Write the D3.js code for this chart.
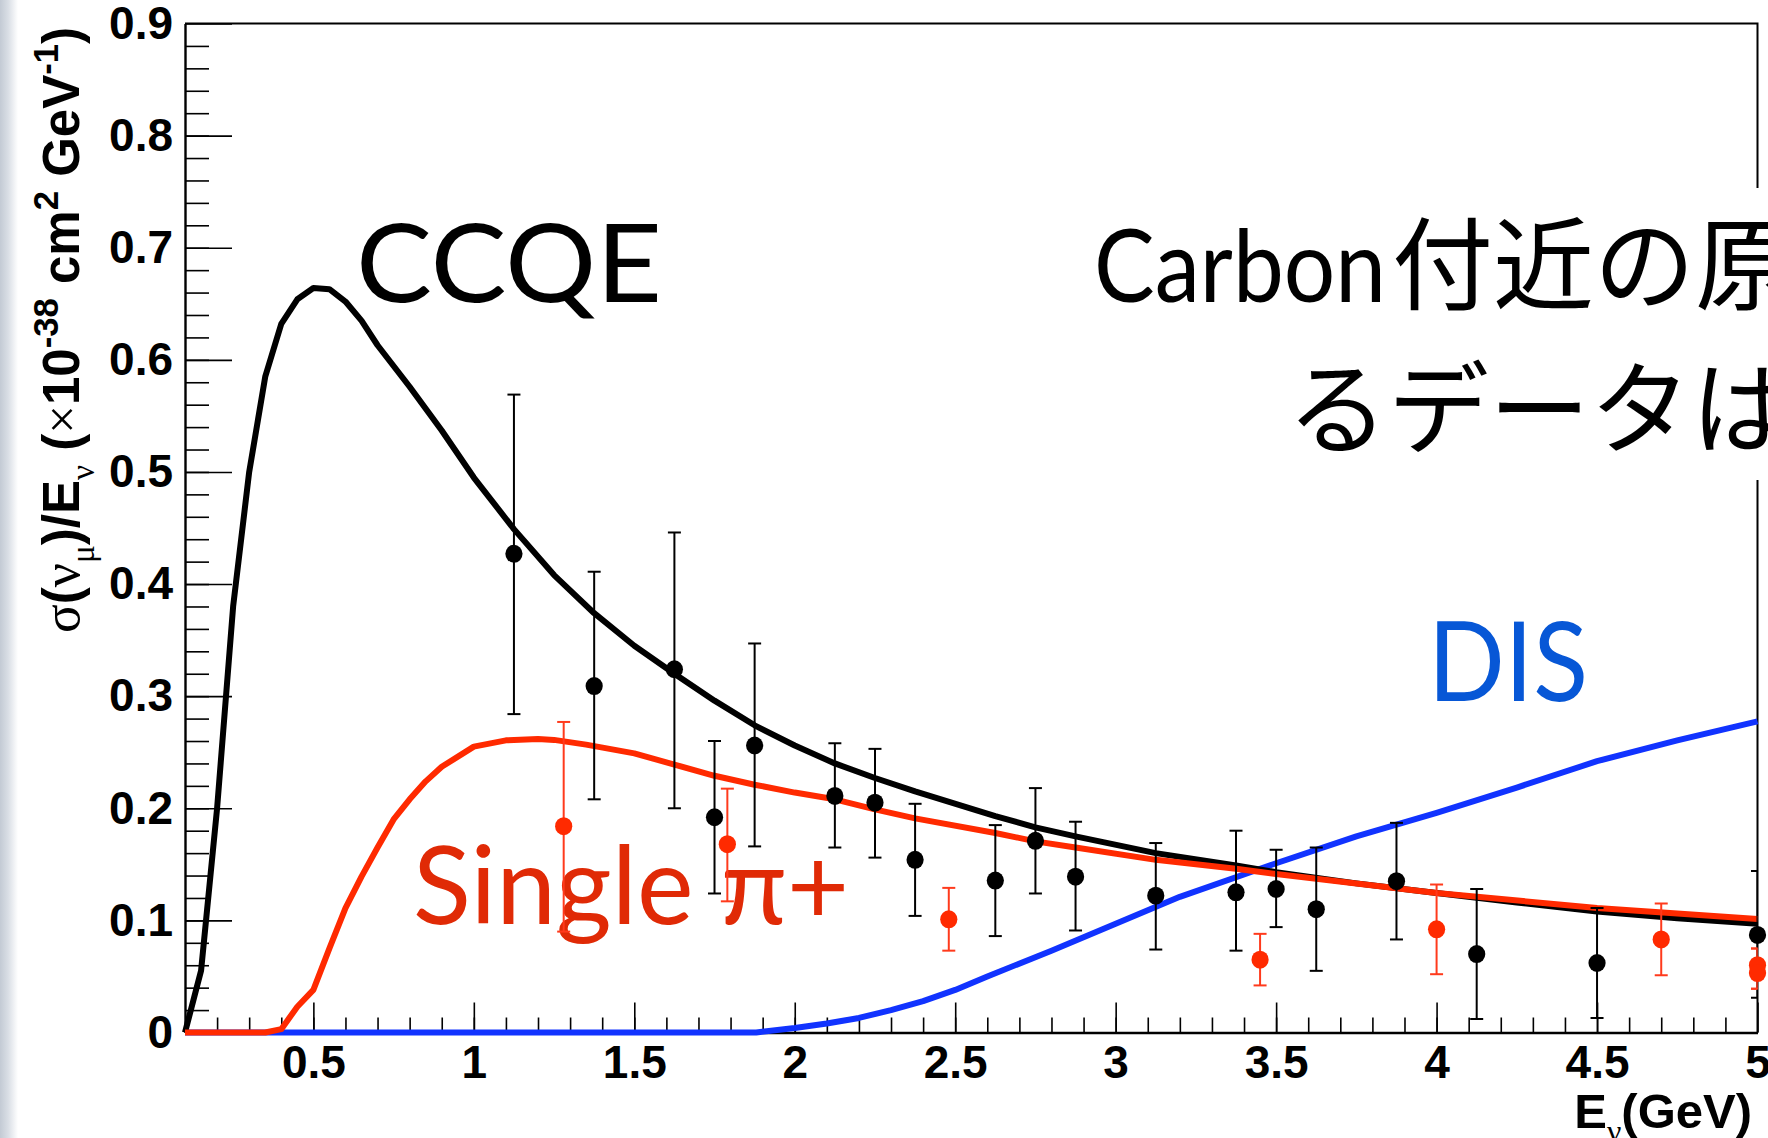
<!DOCTYPE html>
<html>
<head>
<meta charset="utf-8">
<script src="https://cdn.jsdelivr.net/npm/d3@7"></script>
<style>
  body { margin: 0; background: #fff; }
  svg { display: block; }
  .tick text { font-family: "Liberation Sans", Arial, sans-serif; font-weight: bold; font-size: 46px; fill: #000; }
  .label { font-family: Lato, "Noto Sans", sans-serif; }
</style>
</head>
<body>
<div id="plot1"></div>
<script>

// model curves (energy in GeV, sigma/E in 1e-38 cm2/GeV)
var ccqeE    = [0.1,0.15,0.2,0.25,0.3,0.35,0.4,0.45,0.5,0.55,0.6,0.65,0.7,0.8,0.9,1.0,1.125,1.25,1.375,1.5,1.625,1.75,1.875,2.0,2.125,2.25,2.375,2.625,2.75,2.875,3.125,3.375,3.5,3.75,4.0,4.25,4.5,4.75,5.0];
var ccqeXsec = [0,0.055,0.2,0.38,0.5,0.585,0.632,0.654,0.664,0.663,0.652,0.635,0.613,0.576,0.537,0.495,0.449,0.408,0.374,0.345,0.32,0.296,0.274,0.256,0.240,0.227,0.215,0.193,0.183,0.175,0.160,0.149,0.143,0.133,0.1245,0.116,0.108,0.102,0.097];

var pionE    = [0.1,0.35,0.4,0.45,0.5,0.55,0.6,0.65,0.7,0.75,0.8,0.85,0.9,1.0,1.1,1.2,1.25,1.35,1.5,1.625,1.75,1.875,2.0,2.125,2.25,2.375,2.625,2.75,2.875,3.125,3.375,3.5,4.0,4.5,5.0];
var pionXsec = [0,0,0.003,0.023,0.038,0.075,0.111,0.139,0.165,0.19,0.208,0.224,0.237,0.255,0.2606,0.2618,0.261,0.2568,0.249,0.239,0.229,0.221,0.214,0.208,0.199,0.191,0.178,0.1705,0.165,0.154,0.146,0.1414,0.1245,0.111,0.1013];

var disE    = [0.1,1.88,2.0,2.1,2.2,2.3,2.4,2.5,2.6,2.8,3.0,3.2,3.5,3.75,4.0,4.25,4.5,4.75,5.0];
var disXsec = [0,0,0.004,0.008,0.013,0.02,0.028,0.038,0.05,0.073,0.097,0.121,0.151,0.175,0.196,0.2185,0.242,0.2605,0.2775];

// measured points, CCQE (black)
var dataE    = [1.125,1.375,1.625,1.75,1.875,2.125,2.25,2.375,2.625,2.75,2.875,3.125,3.375,3.5,3.625,3.875,4.125,4.5,5.0];
var dataXsec = [0.427,0.309,0.324,0.192,0.256,0.211,0.205,0.154,0.1355,0.171,0.139,0.122,0.125,0.128,0.110,0.135,0.070,0.062,0.087];
var dataHi   = [0.569,0.411,0.446,0.260,0.347,0.258,0.253,0.204,0.185,0.218,0.188,0.169,0.180,0.163,0.165,0.187,0.128,0.111,0.144];
var dataLo   = [0.284,0.208,0.200,0.124,0.166,0.165,0.156,0.104,0.086,0.124,0.091,0.074,0.073,0.094,0.055,0.083,0.012,0.013,0.031];

// measured points, single pion (red)
var pionDataE    = [1.28,1.79,2.48,3.45,4.0,4.7,5.0,5.0];
var pionDataXsec = [0.184,0.168,0.101,0.065,0.092,0.083,0.060,0.053];
var pionDataHi   = [0.277,0.2175,0.129,0.088,0.132,0.115,0.075,0.075];
var pionDataLo   = [0.090,0.117,0.073,0.042,0.052,0.051,0.039,0.039];

// axis ticks
var xTicks = [0.5,1,1.5,2,2.5,3,3.5,4,4.5,5];
var xTickLabels = ["0.5","1","1.5","2","2.5","3","3.5","4","4.5","5"];
var yTicks = [0,0.1,0.2,0.3,0.4,0.5,0.6,0.7,0.8,0.9];
var yTickLabels = ["0","0.1","0.2","0.3","0.4","0.5","0.6","0.7","0.8","0.9"];

var W = 1768, H = 1138;
var frame = {left: 185, right: 1757.5, top: 23.5, bottom: 1032.5};

var svg = d3.select("#plot1")
  .append("svg")
    .attr("width", W)
    .attr("height", H);

////////////////////////////////////////////////////////////
// background: slide edge shading on the left
////////////////////////////////////////////////////////////
var defs = svg.append("defs");
var grad = defs.append("linearGradient").attr("id", "edge").attr("x1", 0).attr("x2", 1);
grad.append("stop").attr("offset", 0).attr("stop-color", "#c3cad4");
grad.append("stop").attr("offset", 0.45).attr("stop-color", "#d9dee5");
grad.append("stop").attr("offset", 1).attr("stop-color", "#ffffff");
svg.append("rect").attr("x", 0).attr("y", 0).attr("width", 18).attr("height", H).attr("fill", "url(#edge)");

defs.append("clipPath").attr("id", "plotclip")
  .append("rect")
    .attr("x", frame.left).attr("y", frame.top)
    .attr("width", frame.right - frame.left).attr("height", frame.bottom - frame.top);

////////////////////////////////////////////////////////////
// scales + axes
////////////////////////////////////////////////////////////
var xscale = d3.scaleLinear().domain([0.1, 5]).range([frame.left, frame.right]);
var yscale = d3.scaleLinear().domain([0, 0.9]).range([frame.bottom, frame.top]);

// minor ticks first
var xMinor = d3.range(2, 50).map(function(i) { return i / 10; });
var yMinor = d3.range(1, 45).map(function(i) { return i / 50; });

svg.append("g")
  .attr("transform", "translate(0," + frame.bottom + ")")
  .call(d3.axisBottom(xscale).tickValues(xMinor).tickSize(-15).tickSizeOuter(0).tickFormat(""))
  .call(function(g) { g.select(".domain").remove(); })
  .selectAll("line").attr("stroke-width", 1.6);

svg.append("g")
  .attr("transform", "translate(" + frame.left + ",0)")
  .call(d3.axisLeft(yscale).tickValues(yMinor).tickSize(-24).tickSizeOuter(0).tickFormat(""))
  .call(function(g) { g.select(".domain").remove(); })
  .selectAll("line").attr("stroke-width", 1.6);

var xAxis = d3.axisBottom(xscale)
  .tickValues(xTicks)
  .tickSize(-30)
  .tickSizeOuter(0)
  .tickPadding(13)
  .tickFormat(function(d, i) { return xTickLabels[i]; });

svg.append("g")
  .attr("class", "myXaxis")
  .attr("transform", "translate(0," + frame.bottom + ")")
  .call(xAxis)
  .call(function(g) { g.select(".domain").attr("stroke-width", 2.4); })
  .selectAll("line").attr("stroke-width", 1.6);

var yAxis = d3.axisLeft(yscale)
  .tickValues(yTicks)
  .tickSize(-47)
  .tickSizeOuter(0)
  .tickPadding(12)
  .tickFormat(function(d, i) { return yTickLabels[i]; });

svg.append("g")
  .attr("class", "myYaxis")
  .attr("transform", "translate(" + frame.left + ",0)")
  .call(yAxis)
  .call(function(g) { g.select(".domain").attr("stroke-width", 2.4); })
  .selectAll("line").attr("stroke-width", 1.6);

// top + right edges of the frame
svg.append("path")
  .attr("d", "M" + frame.left + "," + frame.top + "H" + frame.right + "V" + frame.bottom)
  .attr("fill", "none")
  .attr("stroke", "#000")
  .attr("stroke-width", 2);

////////////////////////////////////////////////////////////
// axis titles (ROOT style, greek in symbol-like serif)
////////////////////////////////////////////////////////////
function richText(sel, parts, size) {
  var shift = 0;
  parts.forEach(function(p) {
    var s = p.s || 0;   // baseline shift in em of main size, + is down
    sel.append("tspan")
      .attr("dy", ((s - shift) * size) + "px")
      .attr("font-size", (p.k || 1) * size + "px")
      .attr("font-family", p.g ? "'Liberation Serif', 'DejaVu Serif', serif" : "'Liberation Sans', Arial, sans-serif")
      .attr("font-weight", p.g ? "normal" : "bold")
      .text(p.t);
    shift = s;
  });
}

var yTitle = svg.append("text")
  .attr("transform", "translate(79,330) rotate(-90)")
  .attr("text-anchor", "middle");
richText(yTitle, [
  {t: "\u03c3", g: true, k: 1.05},
  {t: "("},
  {t: "\u03bd", g: true, k: 1.05},
  {t: "\u03bc", g: true, k: 0.65, s: 0.3},
  {t: ")/E"},
  {t: "\u03bd", g: true, k: 0.65, s: 0.3},
  {t: " ("},
  {t: "\u00d7", g: true},
  {t: "10"},
  {t: "-38", k: 0.68, s: -0.42},
  {t: " cm"},
  {t: "2", k: 0.68, s: -0.42},
  {t: " GeV"},
  {t: "-1", k: 0.68, s: -0.42},
  {t: ")"}
], 51);

var xTitle = svg.append("text")
  .attr("x", 1752)
  .attr("y", 1128)
  .attr("text-anchor", "end");
richText(xTitle, [
  {t: "E"},
  {t: "\u03bd", g: true, k: 0.65, s: 0.28},
  {t: "(GeV)"}
], 49);

////////////////////////////////////////////////////////////
// process labels
////////////////////////////////////////////////////////////
svg.append("text").attr("class", "label")
  .attr("x", 356).attr("y", 302)
  .attr("font-size", 108).attr("fill", "#000")
  .attr("textLength", 306).attr("lengthAdjust", "spacingAndGlyphs")
  .text("CCQE");

svg.append("text").attr("class", "label")
  .attr("x", 413).attr("y", 924)
  .attr("font-size", 108).attr("fill", "#e02a06")
  .attr("textLength", 436).attr("lengthAdjust", "spacingAndGlyphs")
  .text("Single \u03c0+");

svg.append("text").attr("class", "label")
  .attr("x", 1428).attr("y", 701)
  .attr("font-size", 110).attr("fill", "#0757d6")
  .attr("textLength", 160).attr("lengthAdjust", "spacingAndGlyphs")
  .text("DIS");

////////////////////////////////////////////////////////////
// curves
////////////////////////////////////////////////////////////
var valueline = d3.line()
  .x(function(d) { return xscale(d[0]); })
  .y(function(d) { return yscale(d[1]); });

var curves = [
  {e: disE,  v: disXsec,  color: "#1133ff"},
  {e: ccqeE, v: ccqeXsec, color: "#000000"},
  {e: pionE, v: pionXsec, color: "#ff2a00"}
];

svg.append("g")
  .attr("fill", "none")
  .attr("stroke-width", 6)
  .attr("stroke-linejoin", "round")
  .selectAll("path")
  .data(curves)
  .join("path")
    .attr("stroke", function(c) { return c.color; })
    .attr("d", function(c) { return valueline(d3.zip(c.e, c.v)); });

////////////////////////////////////////////////////////////
// data points with error bars
////////////////////////////////////////////////////////////
function drawPoints(E, V, Hi, Lo, color, barColor) {
  var pts = E.map(function(e, i) { return {e: e, v: V[i], hi: Hi[i], lo: Lo[i]}; });
  var g = svg.append("g");
  var bars = g.append("g").attr("clip-path", "url(#plotclip)")
    .attr("stroke", barColor).attr("stroke-width", 2);
  bars.selectAll("line.bar").data(pts).join("line").attr("class", "bar")
    .attr("x1", function(d) { return xscale(d.e); })
    .attr("x2", function(d) { return xscale(d.e); })
    .attr("y1", function(d) { return yscale(d.hi); })
    .attr("y2", function(d) { return yscale(d.lo); });
  ["hi", "lo"].forEach(function(k) {
    bars.selectAll("line.cap" + k).data(pts).join("line").attr("class", "cap" + k)
      .attr("x1", function(d) { return xscale(d.e) - 6.5; })
      .attr("x2", function(d) { return xscale(d.e) + 6.5; })
      .attr("y1", function(d) { return yscale(d[k]); })
      .attr("y2", function(d) { return yscale(d[k]); });
  });
  g.selectAll("ellipse").data(pts).join("ellipse")
    .attr("cx", function(d) { return xscale(d.e); })
    .attr("cy", function(d) { return yscale(d.v); })
    .attr("rx", 8.6)
    .attr("ry", 9)
    .attr("fill", color);
}

drawPoints(dataE, dataXsec, dataHi, dataLo, "#000", "#000");
drawPoints(pionDataE, pionDataXsec, pionDataHi, pionDataLo, "#ff2a00", "#ff3a1c");

////////////////////////////////////////////////////////////
// slide text box on top (covers the frame)
////////////////////////////////////////////////////////////
svg.append("rect")
  .attr("x", 1080).attr("y", 188)
  .attr("width", W - 1080).attr("height", 292)
  .attr("fill", "#fff");

var jp = svg.append("text")
  .attr("font-family", "'Noto Sans CJK JP', sans-serif")
  .attr("font-size", 101)
  .attr("fill", "#000");
jp.append("tspan").attr("x", 1094).attr("y", 302)
  .attr("font-family", "Lato, 'Noto Sans', sans-serif")
  .attr("textLength", 292).attr("lengthAdjust", "spacingAndGlyphs")
  .text("Carbon");
jp.append("tspan").attr("x", 1392).attr("y", 302).text("付近の原");
jp.append("tspan").attr("x", 1287).attr("y", 446).text("るデータは");

</script>
</body>
</html>
